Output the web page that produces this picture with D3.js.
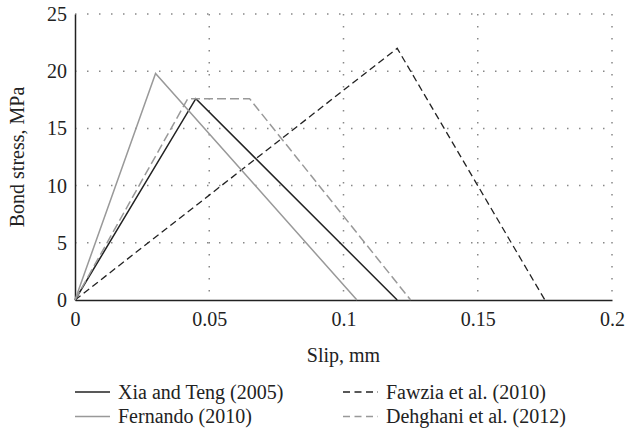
<!DOCTYPE html>
<html>
<head>
<meta charset="utf-8">
<script src="https://cdn.jsdelivr.net/npm/d3@7"></script>
<style>
  body { margin: 0; background: #fff; }
</style>
</head>
<body>
<div id="chart"></div>
<script>
// series names and their (slip, stress) points
var seriesNames = ["Xia and Teng (2005)", "Fawzia et al. (2010)", "Fernando (2010)", "Dehghani et al. (2012)"];
var xiaTeng = [[0, 0], [0.045, 17.6], [0.12, 0]];
var fawzia = [[0, 0], [0.12, 22], [0.175, 0]];
var fernando = [[0, 0], [0.03, 19.8], [0.105, 0]];
var dehghani = [[0, 0], [0.042, 17.6], [0.065, 17.6], [0.125, 0]];
var xTicks = [0, 0.05, 0.1, 0.15, 0.2];
var yTicks = [0, 5, 10, 15, 20, 25];

var FONT = "'Liberation Serif', 'DejaVu Serif', serif";
var FS = "20px";

var w = 639, h = 434;
var margin = { top: 14, right: 27, bottom: 134, left: 75 };
var width = w - margin.left - margin.right,
    height = h - margin.top - margin.bottom;

var svg = d3.select("#chart").append("svg")
    .attr("width", w).attr("height", h)
    .style("font-family", FONT);

var x = d3.scaleLinear().domain([0, 0.2]).range([0, width]);
var y = d3.scaleLinear().domain([0, 25]).range([height, 0]);

var g = svg.append("g")
    .attr("transform", "translate(" + margin.left + "," + margin.top + ")");

// dotted grid
g.selectAll(".hgrid").data(yTicks.slice(1)).enter().append("line")
    .attr("x1", 0).attr("x2", width)
    .attr("y1", function(d) { return y(d); })
    .attr("y2", function(d) { return y(d); })
    .attr("stroke", "#888").attr("stroke-width", 1.5)
    .attr("stroke-dasharray", "1.5,10.5");

g.selectAll(".vgrid").data(xTicks.slice(1)).enter().append("line")
    .attr("x1", function(d) { return x(d); })
    .attr("x2", function(d) { return x(d); })
    .attr("y1", 0).attr("y2", height)
    .attr("stroke", "#888").attr("stroke-width", 1.5)
    .attr("stroke-dasharray", "1.5,10.5");

// axes (no tick marks)
var xAxis = d3.axisBottom(x).tickValues(xTicks).tickSize(0).tickPadding(12)
    .tickFormat(function(d) { return d === 0 ? "0" : String(d); });
var yAxis = d3.axisLeft(y).tickValues(yTicks).tickSize(0).tickPadding(8);

function styleAxis(s) {
    s.attr("font-family", null).attr("font-size", null);
    s.select(".domain").attr("stroke", "#222").attr("stroke-width", 1.5);
    s.selectAll("text").style("font-family", FONT).style("font-size", FS).attr("fill", "#222");
}

g.append("g").attr("transform", "translate(0," + height + ")").call(xAxis).call(styleAxis);
g.append("g").call(yAxis).call(styleAxis);

// series
var styles = [
    { data: xiaTeng, color: "#222", dash: null, width: 1.5 },
    { data: fawzia, color: "#222", dash: "7,4", width: 1.3 },
    { data: fernando, color: "#999", dash: null, width: 1.5 },
    { data: dehghani, color: "#999", dash: "9,4", width: 1.5 }
];
var line = d3.line().x(function(d) { return x(d[0]); }).y(function(d) { return y(d[1]); });

g.selectAll(".series").data(styles).enter().append("path")
    .attr("d", function(d) { return line(d.data); })
    .attr("fill", "none")
    .attr("stroke", function(d) { return d.color; })
    .attr("stroke-width", function(d) { return d.width; })
    .attr("stroke-dasharray", function(d) { return d.dash; });

// axis titles
svg.append("text")
    .attr("x", margin.left + width / 2).attr("y", 362)
    .attr("text-anchor", "middle")
    .style("font-family", FONT).style("font-size", FS).attr("fill", "#222")
    .text("Slip, mm");

svg.append("text")
    .attr("transform", "translate(24," + (margin.top + height / 2) + ") rotate(-90)")
    .attr("text-anchor", "middle")
    .style("font-family", FONT).style("font-size", FS).attr("fill", "#222")
    .text("Bond stress, MPa");

// legend, 2 columns
var legend = svg.append("g");
var item = legend.selectAll(".item").data(styles).enter().append("g")
    .attr("transform", function(d, i) {
        var col = i % 2, row = Math.floor(i / 2);
        return "translate(" + (col === 0 ? 75 : 343) + "," + (392 + row * 24.5) + ")";
    });
item.append("line")
    .attr("x1", 0).attr("x2", 35).attr("y1", 0).attr("y2", 0)
    .attr("stroke", function(d) { return d.color; })
    .attr("stroke-width", 1.5)
    .attr("stroke-dasharray", function(d) { return d.dash ? "7,4.5" : null; });
item.append("text")
    .attr("x", 43).attr("dy", "0.33em")
    .style("font-family", FONT).style("font-size", FS).attr("fill", "#222")
    .text(function(d, i) { return seriesNames[i]; });
</script>
</body>
</html>
